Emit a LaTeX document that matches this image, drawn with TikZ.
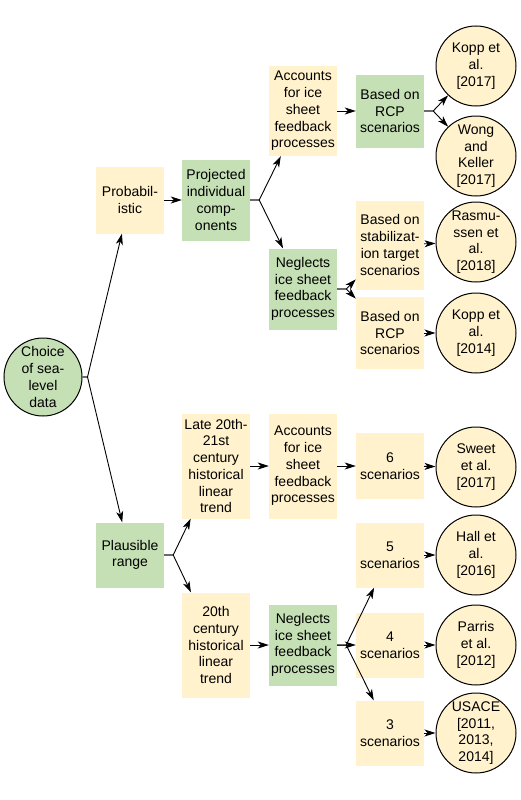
\documentclass[tikz,border=0pt]{standalone}
\usepackage{fontspec}
\setmainfont{Liberation Sans}
\usetikzlibrary{arrows.meta}
\definecolor{boxyellow}{HTML}{FFF2CC}
\definecolor{boxgreen}{HTML}{C5E0B4}
\tikzset{
    box/.style={fill=#1, minimum width=68pt, inner sep=0pt, align=center,
        font=\fontsize{14}{16.7}\selectfont},
    ybox/.style={box=boxyellow, minimum height=#1},
    gbox/.style={box=boxgreen, minimum height=#1},
    refcirc/.style={circle, draw, line width=1pt, fill=boxyellow, minimum size=80pt,
        inner sep=0pt, align=center, font=\fontsize{14}{16.7}\selectfont},
    arr/.style={-{Stealth[length=11pt,width=7pt,inset=3pt]}, line width=0.9pt},
}
\begin{document}
\begin{tikzpicture}[x=1pt, y=-1pt]
                    \useasboundingbox (0,0) rectangle (520,800);
                    % Root
                    \node[refcirc, fill=boxgreen, minimum size=78pt] (root) at (43,377) {Choice\\of sea-\\level\\data};
                    % Probabilistic branch
                    \node[ybox=67pt] (prob) at (130,200) {Probabil-\\istic};
                    \node[gbox=81pt] (proj) at (216,200) {Projected\\individual\\comp-\\onents};
                    \node[ybox=90pt] (accA) at (303,111) {Accounts\\for ice\\sheet\\feedback\\processes};
                    \node[gbox=73pt] (rcpA) at (390,111) {Based on\\RCP\\scenarios};
                    \node[refcirc] (koppA) at (476,66) {Kopp et\\al.\\{[2017]}};
                    \node[refcirc] (wong) at (476,156) {Wong\\and\\Keller\\{[2017]}};
                    \node[gbox=81pt] (negA) at (303,289) {Neglects\\ice sheet\\feedback\\processes};
                    \node[ybox=89pt] (stab) at (390,245) {Based on\\stabilizat-\\ion target\\scenarios};
                    \node[ybox=72pt] (rcpB) at (390,333) {Based on\\RCP\\scenarios};
                    \node[refcirc] (rasm) at (476,242) {Rasmu-\\ssen et\\al.\\{[2018]}};
                    \node[refcirc] (koppB) at (476,333) {Kopp et\\al.\\{[2014]}};
                    % Plausible branch
                    \node[gbox=65pt] (plaus) at (130,555) {Plausible\\range};
                    \node[ybox=105pt] (late) at (216,466) {Late 20th-\\21st\\century\\historical\\linear\\trend};
                    \node[ybox=105pt] (cent) at (216,645) {20th\\century\\historical\\linear\\trend};
                    \node[ybox=105pt] (accB) at (303,466) {Accounts\\for ice\\sheet\\feedback\\processes};
                    \node[ybox=66pt] (six) at (390,466) {6\\scenarios};
                    \node[refcirc] (sweet) at (476,467) {Sweet\\et al.\\{[2017]}};
                    \node[gbox=81pt] (negB) at (303,645) {Neglects\\ice sheet\\feedback\\processes};
                    \node[ybox=65pt] (five) at (390,555) {5\\scenarios};
                    \node[ybox=65pt] (four) at (390,645) {4\\scenarios};
                    \node[ybox=65pt] (three) at (390,733) {3\\scenarios};
                    \node[refcirc] (hall) at (476,555) {Hall et\\al.\\{[2016]}};
                    \node[refcirc] (parris) at (476,645) {Parris\\et al.\\{[2012]}};
                    \node[refcirc] (usace) at (476,733) {USACE\\{[2011,}\\2013,\\2014]};
                    % Forked arrows
                    \draw[arr] (root.east) -- ++(5,0) -- (prob);
                    \draw[arr] (root.east) -- ++(5,0) -- (plaus);
                    \draw[arr] (proj.east) -- ++(9,0) -- (accA);
                    \draw[arr] (proj.east) -- ++(9,0) -- (negA);
                    \draw[arr] (rcpA.east) -- ++(9,0) -- (koppA);
                    \draw[arr] (rcpA.east) -- ++(9,0) -- (wong);
                    \draw[arr] (negA.east) -- ++(9,0) -- (stab);
                    \draw[arr] (negA.east) -- ++(9,0) -- (rcpB);
                    \draw[arr] (plaus.east) -- ++(9,0) -- (late);
                    \draw[arr] (plaus.east) -- ++(9,0) -- (cent);
                    \draw[arr] (negB.east) -- ++(9,0) -- (five);
                    \draw[arr] (negB.east) -- ++(9,0) -- (four);
                    \draw[arr] (negB.east) -- ++(9,0) -- (three);
                    % Straight arrows
                    \draw[arr] (prob) -- (proj);
                    \draw[arr] (accA) -- (rcpA);
                    \draw[arr] (stab) -- (rasm);
                    \draw[arr] (rcpB) -- (koppB);
                    \draw[arr] (late) -- (accB);
                    \draw[arr] (accB) -- (six);
                    \draw[arr] (six) -- (sweet);
                    \draw[arr] (cent) -- (negB);
                    \draw[arr] (five) -- (hall);
                    \draw[arr] (four) -- (parris);
                    \draw[arr] (three) -- (usace);
                \end{tikzpicture}
\end{document}
